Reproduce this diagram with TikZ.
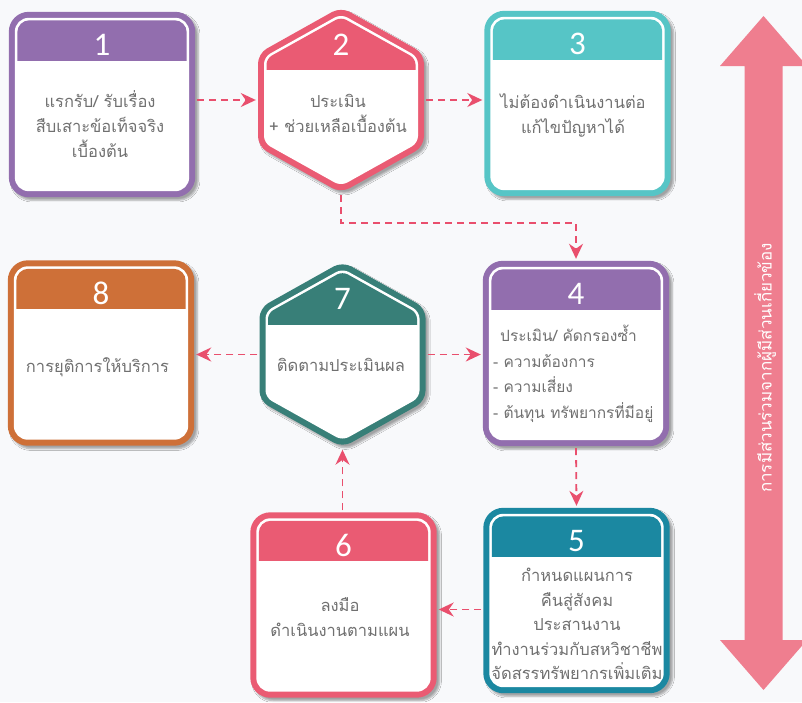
\documentclass[tikz,border=0pt]{standalone}
\usepackage{fontspec}
\usetikzlibrary{calc,arrows.meta,shadows.blur}
\newfontfamily\thai[Script=Thai]{Loma}
\newfontfamily\numfont{Carlito}
\definecolor{bgc}{HTML}{F8F9FB}
\definecolor{cpurple}{HTML}{926EAE}
\definecolor{cpink}{HTML}{EA5B73}
\definecolor{cteal}{HTML}{56C5C6}
\definecolor{corange}{HTML}{CE7038}
\definecolor{cgreen}{HTML}{387F78}
\definecolor{cblue}{HTML}{1B88A1}
\definecolor{carrow}{HTML}{E94F6D}
\definecolor{cbig}{HTML}{EF7E8F}
\definecolor{txtgray}{HTML}{707070}
\tikzset{
  boxanchor/.style={rectangle, minimum width=186pt, minimum height=185pt, inner sep=0pt, draw=none},
  hexanchor/.style={rectangle, minimum width=166pt, minimum height=186pt, inner sep=0pt, draw=none},
  cardshadow/.style={blur shadow={shadow xshift=3pt, shadow yshift=-3pt, shadow blur steps=6, shadow opacity=35}},
  numtext/.style={font=\numfont\fontsize{33}{33}\selectfont, text=white, inner sep=0pt},
  bodytext/.style={font=\thai\fontsize{16.5}{25}\selectfont, text=txtgray, align=center, inner sep=0pt},
  flow/.style={draw=carrow, line width=1.8pt, dash pattern=on 7pt off 5pt, -{Stealth[length=15pt,width=14pt]}, shorten >=2pt, shorten <=2pt},
  bigarrow/.style={fill=cbig},
  vtext/.style={font=\thai\fontsize{17}{19}\selectfont, text=white, rotate=90, inner sep=0pt}
}
\newcommand\cardframe[2]{%
  \fill[#2, rounded corners=20pt, cardshadow] (#1.north west) rectangle (#1.south east);
  \fill[white, rounded corners=14pt] ($(#1.north west)+(6,6)$) rectangle ($(#1.south east)+(-6,-6)$);
  \begin{scope}
    \clip[rounded corners=12pt] ($(#1.north west)+(8.5,8.5)$) rectangle ($(#1.south east)+(-8.5,-8.5)$);
    \fill[#2] (#1.north west) rectangle ($(#1.north east)+(0,49)$);
  \end{scope}}
\newcommand\hexpath[3]{($(#1)+(0,-#3)$) -- ($(#1)+(#2,-#3/2)$) -- ($(#1)+(#2,#3/2)$) -- ($(#1)+(0,#3)$) -- ($(#1)+(-#2,#3/2)$) -- ($(#1)+(-#2,-#3/2)$) -- cycle}
\newcommand\hexframe[2]{%
  \fill[#2, rounded corners=10pt, cardshadow] \hexpath{#1.center}{83}{93};
  \fill[white, rounded corners=7pt] \hexpath{#1.center}{77}{86};
  \begin{scope}
    \clip[rounded corners=6pt] \hexpath{#1.center}{74.5}{83};
    \fill[#2] ($(#1.center)+(-83,-93)$) rectangle ($(#1.center)+(83,-30)$);
  \end{scope}}
\begin{document}
\begin{tikzpicture}[x=1pt,y=-1pt]
\fill[bgc] (0,0) rectangle (802,702);
\useasboundingbox (0,0) rectangle (802,702);

% anchors
\node[boxanchor] (b1) at (102,104.5) {};
\node[hexanchor] (h2) at (341,100) {};
\node[boxanchor] (b3) at (577.5,103.5) {};
\node[boxanchor] (b8) at (101,353) {};
\node[hexanchor] (h7) at (342.5,354.5) {};
\node[boxanchor] (b4) at (576,353.5) {};
\node[boxanchor] (b6) at (343.5,605) {};
\node[boxanchor] (b5) at (576.5,600.5) {};

% frames
\cardframe{b1}{cpurple}
\hexframe{h2}{cpink}
\cardframe{b3}{cteal}
\cardframe{b8}{corange}
\hexframe{h7}{cgreen}
\cardframe{b4}{cpurple}
\cardframe{b6}{cpink}
\cardframe{b5}{cblue}

% numbers
\node[numtext] (n1) at ($(b1.north)+(0,33)$) {1};
\node[numtext] (n2) at ($(h2.north)+(0,38)$) {2};
\node[numtext] (n3) at ($(b3.north)+(0,33)$) {3};
\node[numtext] (n8) at ($(b8.north)+(0,33)$) {8};
\node[numtext] (n7) at ($(h7.north)+(0,38)$) {7};
\node[numtext] (n4) at ($(b4.north)+(0,33)$) {4};
\node[numtext] (n6) at ($(b6.north)+(0,33)$) {6};
\node[numtext] (n5) at ($(b5.north)+(0,33)$) {5};

% body texts
\node[bodytext] (t1) at (100,124) {แรกรับ/ รับเรื่อง\\สืบเสาะข้อเท็จจริง\\เบื้องต้น};
\node[bodytext] (t2) at (338,113) {ประเมิน\\+ ช่วยเหลือเบื้องต้น};
\node[bodytext] (t3) at (573,115) {ไม่ต้องดำเนินงานต่อ\\แก้ไขปัญหาได้};
\node[bodytext] (t8) at (97.5,367) {การยุติการให้บริการ};
\node[bodytext] (t7) at (341,365) {ติดตามประเมินผล};
\node[bodytext, font=\thai\fontsize{15.5}{25.5}\selectfont, align=left, anchor=west] (t4) at (493,374) {\hspace*{7pt}ประเมิน/ คัดกรองซ้ำ\\- ความต้องการ\\- ความเสี่ยง\\- ต้นทุน ทรัพยากรที่มีอยู่};
\node[bodytext] (t6) at (340,617) {ลงมือ\\ดำเนินงานตามแผน};
\node[bodytext, font=\thai\fontsize{16.5}{24.5}\selectfont] (t5) at (577,624) {กำหนดแผนการ\\คืนสู่สังคม\\ประสานงาน\\ทำงานร่วมกับสหวิชาชีพ\\จัดสรรทรัพยากรเพิ่มเติม};

% connectors
\draw[flow] (b1.east |- h2.west) -- (h2.west);
\draw[flow] (h2.east) -- (b3.west |- h2.east);
\draw[flow] (h2.south) -- ++(0,30) -| (b4.north);
\draw[flow] (b4.south) -- (b5.north);
\draw[flow] ($(b5.west)+(0,9)$) -- ($(b6.east)+(0,4.5)$);
\draw[flow] (h7.south |- b6.north) -- (h7.south);
\draw[flow] (h7.east) -- (b4.west |- h7.east);
\draw[flow] (h7.west) -- (b8.east |- h7.west);

% big double arrow
\coordinate (atop) at (763.5,16);
\coordinate (abot) at (763.5,690);
\fill[bigarrow] (atop) -- ($(atop)+(43.5,50)$) -- ($(atop)+(19,50)$) -- ($(abot)+(19,-50)$) -- ($(abot)+(43.5,-50)$) -- (abot) -- ($(abot)+(-43.5,-50)$) -- ($(abot)+(-19,-50)$) -- ($(atop)+(-19,50)$) -- ($(atop)+(-43.5,50)$) -- cycle;
\node[vtext] (vt) at (765,368) {การมีส่วนร่วมจากผู้มีส่วนเกี่ยวข้อง};
\end{tikzpicture}
\end{document}
